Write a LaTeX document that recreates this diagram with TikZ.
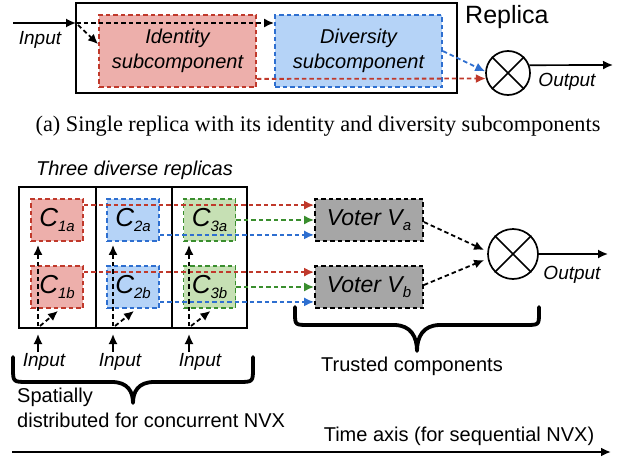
\documentclass[tikz,border=0pt]{standalone}
\usepackage{fontspec}
\setmainfont{Liberation Sans}
\newfontfamily\capfont{Liberation Serif}
\usetikzlibrary{arrows.meta,calc}
\definecolor{redc}{RGB}{192,57,43}
\definecolor{pinkf}{RGB}{237,175,171}
\definecolor{bluec}{RGB}{46,111,208}
\definecolor{bluef}{RGB}{181,211,247}
\definecolor{greenc}{RGB}{58,142,46}
\definecolor{greenf}{RGB}{198,224,180}
\definecolor{grayf}{RGB}{166,166,166}
\newcommand\mysub[1]{\raisebox{-5pt}{\fontsize{15}{15}\selectfont\itshape #1}}
\newcommand\clab[2]{{\fontsize{26}{26}\selectfont\itshape C}\mysub{#1#2}}
\tikzset{
  dsh/.style={dash pattern=on 4.5pt off 3pt, line width=1.8pt},
  arr/.style={-{Latex[length=10pt,width=9pt]}},
  frame/.style={draw, line width=2pt, inner sep=0pt},
  sub/.style={draw, dsh, inner sep=0pt, align=center, font=\fontsize{20}{25}\selectfont\itshape},
  cbox/.style={draw, dsh, minimum width=52pt, minimum height=42pt, inner sep=0pt},
  vbox/.style={draw=black, fill=grayf, dsh, minimum width=108pt, minimum height=42pt, inner sep=0pt},
  lab/.style={inner sep=0pt, font=\fontsize{20}{25}\selectfont},
  ilab/.style={inner sep=0pt, font=\fontsize{19}{24}\selectfont\itshape},
  xcirc/.style={circle, draw, line width=1.7pt, inner sep=0pt},
  brace/.style={line width=3.8pt, line cap=round, line join=round},
}
\begin{document}
\begin{tikzpicture}[x=1pt,y=-1pt]
\useasboundingbox (0,0) rectangle (624,458);
% ---------- top: single replica ----------
\node[frame, minimum width=381pt, minimum height=90pt] (rep) at (266.5,48) {};
\node[sub, draw=redc, fill=pinkf, minimum width=157pt, minimum height=72pt] (id) at (177.5,51) {Identity\\subcomponent};
\node[sub, draw=bluec, fill=bluef, minimum width=167pt, minimum height=72pt] (div) at (358.5,51) {Diversity\\subcomponent};
\node[lab, anchor=west, font=\fontsize{25}{25}\selectfont] (replab) at (465,17) {Replica};
\node[xcirc, minimum size=44pt] (x1) at (508,73) {};
\draw[line width=1.7pt] (x1.north west) -- (x1.south east) (x1.north east) -- (x1.south west);
\node[ilab] (inA) at (40,40) {Input};
\node[ilab] (outA) at (567,82) {Output};
\coordinate (s0) at (13,23);
\coordinate (jn) at (76,23);
\draw[arr, line width=1.7pt] (s0) -- (jn);
\draw[arr, dsh] (jn) -- (div.west |- jn);
\draw[arr, dsh] ([xshift=2pt,yshift=-2pt]jn) -- ([yshift=-30pt]id.north west);
\draw[arr, dsh, draw=redc] ([yshift=9pt]id.south east) -- (x1.194);
\draw[arr, dsh, draw=bluec] ([yshift=-37pt]div.north east) -- (x1.176);
\coordinate (oA) at (613,65);
\draw[arr, line width=1.7pt] (x1.20) -- (oA);
% caption
\node[inner sep=0pt, font=\capfont\fontsize{22.3}{24}\selectfont] (cap) at (318,126) {(a) Single replica with its identity and diversity subcomponents};
% ---------- bottom: three replicas ----------
\node[ilab, font=\fontsize{20}{24}\selectfont\itshape] (three) at (134.5,170) {Three diverse replicas};
\node[frame, minimum width=77pt, minimum height=141pt] (r1) at (57.5,257.5) {};
\node[frame, minimum width=76pt, minimum height=141pt] (r2) at (134,257.5) {};
\node[frame, minimum width=75pt, minimum height=141pt] (r3) at (209.5,257.5) {};
\node[cbox, draw=redc, fill=pinkf] (c1a) at (57,220) {\clab{1}{a}};
\node[cbox, draw=redc, fill=pinkf] (c1b) at (57,287) {\clab{1}{b}};
\node[cbox, draw=bluec, fill=bluef] (c2a) at (133,220) {\clab{2}{a}};
\node[cbox, draw=bluec, fill=bluef] (c2b) at (133,287) {\clab{2}{b}};
\node[cbox, draw=greenc, fill=greenf] (c3a) at (209.5,220) {\clab{3}{a}};
\node[cbox, draw=greenc, fill=greenf] (c3b) at (209.5,287) {\clab{3}{b}};
\node[vbox] (va) at (369,220) {{\fontsize{23}{23}\selectfont\itshape Voter V}\mysub{a}};
\node[vbox] (vb) at (369,287) {{\fontsize{23}{23}\selectfont\itshape Voter V}\mysub{b}};
\node[xcirc, minimum size=50pt] (x2) at (513,254) {};
\draw[line width=1.7pt] (x2.north west) -- (x2.south east) (x2.north east) -- (x2.south west);
\node[ilab] (outB) at (572,275) {Output};
% replica outputs to voters
\draw[arr, dsh, draw=redc] ([yshift=-7pt]c1a.north east) -- ([yshift=-7pt]va.north west);
\draw[arr, dsh, draw=greenc] (c3a.east) -- (va.west);
\draw[arr, dsh, draw=bluec] ([yshift=7pt]c2a.south east) -- ([yshift=7pt]va.south west);
\draw[arr, dsh, draw=redc] ([yshift=-7pt]c1b.north east) -- ([yshift=-7pt]vb.north west);
\draw[arr, dsh, draw=greenc] (c3b.east) -- (vb.west);
\draw[arr, dsh, draw=bluec] ([yshift=7pt]c2b.south east) -- ([yshift=7pt]vb.south west);
% voters to circle
\draw[arr, dsh] ([yshift=-2pt]va.east) -- ([xshift=-3pt,yshift=4pt]x2.west);
\draw[arr, dsh] ([yshift=2pt]vb.east) -- ([xshift=-3pt,yshift=-6pt]x2.west);
\coordinate (oB) at (608,254);
\draw[arr, line width=1.7pt] (x2.east) -- (oB);
% inputs inside replicas
\foreach \i/\x in {1/38,2/113,3/189}{
  \coordinate (b\i) at (\x,326);
  \coordinate (i\i) at (\x,352);
}
\draw[arr, dsh] (b1) -- ($(c1a.south -| b1)+(0,3)$);
\draw[arr, dsh] ([xshift=2pt]b1) -- ([xshift=1pt,yshift=-2pt]c1b.south);
\draw[arr, dsh] (b2) -- ($(c2a.south -| b2)+(0,3)$);
\draw[arr, dsh] ([xshift=2pt]b2) -- ([xshift=1pt,yshift=-2pt]c2b.south);
\draw[arr, dsh] (b3) -- ($(c3a.south -| b3)+(0,3)$);
\draw[arr, dsh] ([xshift=2pt]b3) -- ([xshift=1pt,yshift=-2pt]c3b.south);
\draw[arr, line width=1.7pt] (i1) -- ($(r1.south -| i1)+(0,5)$);
\draw[arr, line width=1.7pt] (i2) -- ($(r2.south -| i2)+(0,5)$);
\draw[arr, line width=1.7pt] (i3) -- ($(r3.south -| i3)+(0,5)$);
\node[ilab] (in1) at (44,362) {Input};
\node[ilab] (in2) at (120,362) {Input};
\node[ilab] (in3) at (200,362) {Input};
% braces
\draw[brace] (13,357) -- (13,368) .. controls (13,382) .. (28,382) -- (112,382)
  .. controls (128,382) and (133,392) .. (133,403)
  .. controls (133,392) and (138,382) .. (154,382) -- (238,382)
  .. controls (253,382) .. (253,368) -- (253,357);
\draw[brace] (295,307) -- (295,313) .. controls (295,325) .. (309,325) -- (394,325)
  .. controls (411,325) and (417,337) .. (417,351)
  .. controls (417,337) and (423,325) .. (440,325) -- (525,325)
  .. controls (539,325) .. (539,313) -- (539,307);
\node[lab, anchor=west] (spat1) at (17,397) {Spatially};
\node[lab, anchor=west] (spat2) at (17,420) {distributed for concurrent NVX};
\node[lab] (trust) at (412,366) {Trusted components};
\node[lab] (time) at (459,436) {Time axis (for sequential NVX)};
\coordinate (t0) at (12,452);
\coordinate (t1) at (611,452);
\draw[arr, line width=2pt] (t0) -- (t1);
\end{tikzpicture}
\end{document}
